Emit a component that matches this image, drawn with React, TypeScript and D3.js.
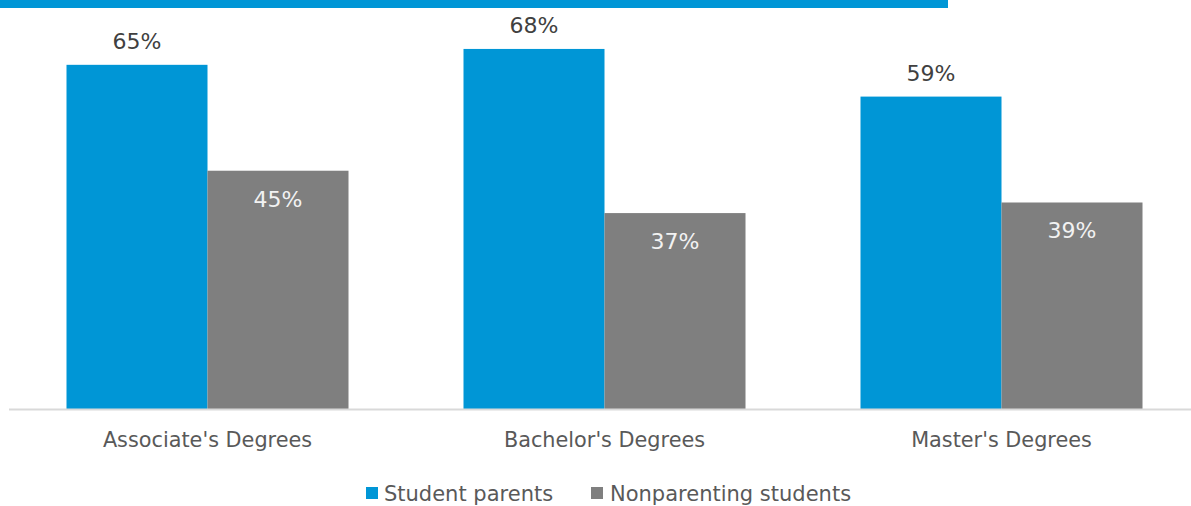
import React from "react";
import * as d3 from "d3";

const categories = ["Associate's Degrees", "Bachelor's Degrees", "Master's Degrees"];
const seriesNames = ["Student parents", "Nonparenting students"];
const studentParents = [65, 68, 59];
const nonparenting = [45, 37, 39];
const colors = ["#0096D6", "#7F7F7F"];

const W = 1191;
const H = 506;
const FONT = "'DejaVu Sans', Verdana, sans-serif";

export default function App() {
  const x0 = d3.scaleBand<string>().domain(categories).range([9, 9 + 397 * 3]).padding(0);
  const x1 = d3.scaleBand<number>().domain([0, 1]).range([57.5, 57.5 + 282]).padding(0);
  const y = d3.scaleLinear().domain([0, 100]).range([409, 409 - 529.5]);
  const series = [studentParents, nonparenting];

  return (
    <svg width={W} height={H} style={{ display: "block", position: "absolute", left: 0, top: 0 }} fontFamily={FONT}>
      <rect x={0} y={0} width={948} height={8} fill="#0096D6" />
      {categories.map((c, i) => (
        <g key={c}>
          {series.map((s, j) => {
            const bx = (x0(c) as number) + (x1(j) as number);
            const bw = x1.bandwidth();
            const top = y(s[i]);
            return (
              <g key={j}>
                <rect x={bx} y={top} width={bw} height={y(0) - top} fill={colors[j]} />
                {j === 0 ? (
                  <text x={bx + bw / 2} y={top - 16} textAnchor="middle" fontSize={22} fill="#404040">
                    {s[i]}%
                  </text>
                ) : (
                  <text x={bx + bw / 2} y={top + 36} textAnchor="middle" fontSize={22} fill="#F2F2F2">
                    {s[i]}%
                  </text>
                )}
              </g>
            );
          })}
          <text x={(x0(c) as number) + x0.bandwidth() / 2} y={447} textAnchor="middle" fontSize={20.8} fill="#595959">
            {c}
          </text>
        </g>
      ))}
      <line x1={9} x2={W} y1={409.5} y2={409.5} stroke="#D9D9D9" strokeWidth={2} />
      <g>
        <rect x={366} y={487} width={12} height={12} fill={colors[0]} />
        <text x={384} y={500.5} fontSize={21} fill="#595959">{seriesNames[0]}</text>
        <rect x={591} y={487} width={12} height={12} fill={colors[1]} />
        <text x={610} y={500.5} fontSize={21} fill="#595959">{seriesNames[1]}</text>
      </g>
    </svg>
  );
}
